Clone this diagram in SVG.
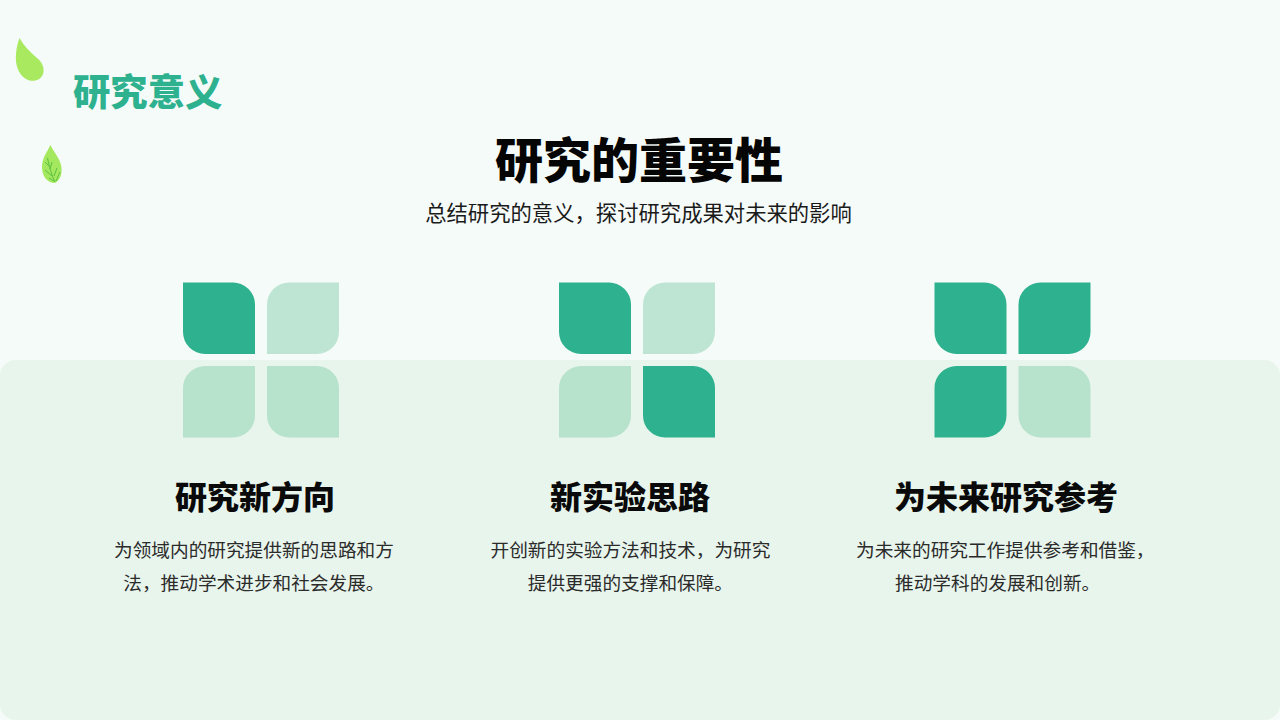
<svg xmlns="http://www.w3.org/2000/svg" width="1280" height="720" viewBox="0 0 1280 720">
<defs>
<path id="a" d="M0 0H50A22 22 0 0 1 72 22V71.500H22A22 22 0 0 1 0 49.500Z"/>
<path id="b" d="M22 0H72V49.500A22 22 0 0 1 50 71.500H0V22A22 22 0 0 1 22 0Z"/>
</defs>
<style>
text{font-family:"Noto Sans CJK SC","Noto Sans",sans-serif}
.h{font-size:32px;font-weight:900;fill:#0a0a0a;text-anchor:middle}
.d{font-size:18.670px;fill:#2b2b2b}
.on{fill:#2eb18e}
.p1{fill:#bee5d3}
.p2{fill:#b7e2cc}
</style>
<rect width="1280" height="720" fill="#f5fbf9"/>
<rect x="0" y="360" width="1280" height="360" rx="16" fill="#e8f5ec"/>
<g id="leaf-1"><path d="M19.500 38C24 46 30 52 37 58C42 62 45 68 43 74C41 80 33 83 26 79C18 74 15 64 16 54C16.500 47 18 42 19.500 38Z" fill="#a8e960"/></g>
<g id="leaf-2"><path d="M50.500 145C53 151 59 157 61 165C63 174 60 180 55 183C47 183 42 176 42 167C42 158 47 152 50.500 145Z" fill="#a4e85f"/>
<path d="M47.500 158C49 166 52 176 55 182M45 162L49 166M52 162L50 169M45 170L52 176M57 168L54 176M49 178L54 181M60 172L56 181" fill="none" stroke="#5cc041" stroke-width="1"/></g>
<text id="section-title" x="73" y="106" font-size="37.330" font-weight="900" fill="#2eb18e">研究意义</text>
<text id="title" x="639" y="178" font-size="48" font-weight="900" fill="#050505" text-anchor="middle">研究的重要性</text>
<text id="subtitle" x="638.500" y="221" font-size="21.330" fill="#1a1a1a" text-anchor="middle">总结研究的意义，探讨研究成果对未来的影响</text>
<g id="card-1">
<use href="#a" x="183" y="282.500" class="on"/><use href="#b" x="267" y="282.500" class="p1"/><use href="#b" x="183" y="366" class="p2"/><use href="#a" x="267" y="366" class="p2"/>
<text class="h" x="255" y="509">研究新方向</text>
<text class="d" x="114" y="557">为领域内的研究提供新的思路和方</text>
<text class="d" x="123.300" y="590">法，推动学术进步和社会发展。</text>
</g>
<g id="card-2">
<use href="#a" x="559" y="282.500" class="on"/><use href="#b" x="643" y="282.500" class="p1"/><use href="#b" x="559" y="366" class="p2"/><use href="#a" x="643" y="366" class="on"/>
<text class="h" x="630" y="509">新实验思路</text>
<text class="d" x="490.500" y="557">开创新的实验方法和技术，为研究</text>
<text class="d" x="527.800" y="590">提供更强的支撑和保障。</text>
</g>
<g id="card-3">
<use href="#a" x="934.500" y="282.500" class="on"/><use href="#b" x="1018.500" y="282.500" class="on"/><use href="#b" x="934.500" y="366" class="on"/><use href="#a" x="1018.500" y="366" class="p2"/>
<text class="h" x="1006" y="509">为未来研究参考</text>
<text class="d" x="856" y="557">为未来的研究工作提供参考和借鉴，</text>
<text class="d" x="895" y="590">推动学科的发展和创新。</text>
</g>
</svg>
